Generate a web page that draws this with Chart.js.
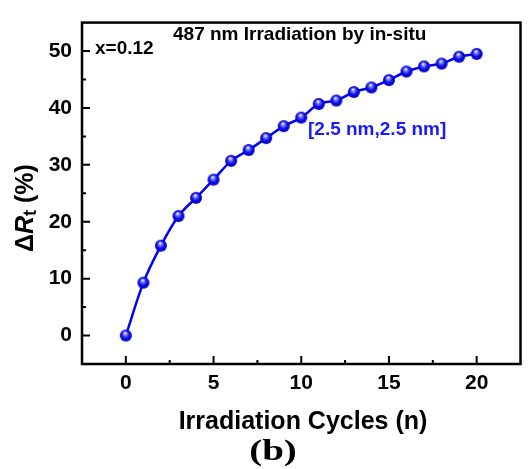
<!DOCTYPE html>
<html>
<head>
<meta charset="utf-8">
<script src="https://cdn.jsdelivr.net/npm/chart.js@4/dist/chart.umd.min.js"></script>
<style>
html,body{margin:0;padding:0;background:#fff;}
#wrap{width:529px;height:469px;position:relative;}
</style>
</head>
<body>
<div id="wrap"><canvas id="c" width="529" height="469"></canvas></div>
<script>
const cycles = [0,1,2,3,4,5,6,7,8,9,10,11,12,13,14,15,16,17,18,19,20];
const deltaRt = [0,9.3,15.8,21.0,24.2,27.4,30.7,32.6,34.7,36.8,38.3,40.7,41.3,42.8,43.6,44.9,46.4,47.3,47.8,49.0,49.5];
const xTicks = [0,5,10,15,20];
const yTicks = [0,10,20,30,40,50];
const xMinor = [2.5,7.5,12.5,17.5];
const yMinor = [5,15,25,35,45];
const xTitle = 'Irradiation Cycles (n)';
const panelLabel = '(b)';
const noteX = 'x=0.12';
const noteTitle = '487 nm Irradiation by in-situ';
const noteSize = '[2.5 nm,2.5 nm]';

const FONT = '"Liberation Sans", Arial, sans-serif';

// sphere-like point image
function sphere(r){
  const c = document.createElement('canvas');
  const s = r*2+2;
  c.width = s; c.height = s;
  const g = c.getContext('2d');
  const cx = s/2, cy = s/2;
  const grad = g.createRadialGradient(cx-r*0.15, cy-r*0.45, r*0.05, cx, cy, r);
  grad.addColorStop(0, '#ffffff');
  grad.addColorStop(0.25, '#8080ff');
  grad.addColorStop(0.6, '#1010f0');
  grad.addColorStop(1, '#0000b0');
  g.fillStyle = grad;
  g.beginPath(); g.arc(cx, cy, r, 0, Math.PI*2); g.fill();
  return c;
}
const ball = sphere(6);

const framePlugin = {
  id: 'frame',
  afterDraw(chart){
    const {ctx, chartArea: a, scales: {x, y}} = chart;
    ctx.save();
    ctx.strokeStyle = '#000';
    ctx.lineWidth = 2.5;
    ctx.strokeRect(a.left, a.top, a.right - a.left, a.bottom - a.top);
    ctx.lineWidth = 2;
    ctx.beginPath();
    xTicks.forEach(v => { const p = x.getPixelForValue(v); ctx.moveTo(p, a.bottom); ctx.lineTo(p, a.bottom - 8); });
    xMinor.forEach(v => { const p = x.getPixelForValue(v); ctx.moveTo(p, a.bottom); ctx.lineTo(p, a.bottom - 4); });
    yTicks.forEach(v => { const p = y.getPixelForValue(v); ctx.moveTo(a.left, p); ctx.lineTo(a.left + 8, p); });
    yMinor.forEach(v => { const p = y.getPixelForValue(v); ctx.moveTo(a.left, p); ctx.lineTo(a.left + 4, p); });
    ctx.stroke();

    // annotations
    ctx.fillStyle = '#000';
    ctx.textBaseline = 'middle';
    ctx.textAlign = 'left';
    ctx.font = 'bold 19px ' + FONT;
    ctx.fillText(noteX, 95, 49);
    ctx.fillText(noteTitle, 173, 35);
    ctx.fillStyle = '#1a1aff';
    ctx.fillText(noteSize, 308, 130);

    // x title
    ctx.fillStyle = '#000';
    ctx.textAlign = 'center';
    ctx.font = 'bold 25px ' + FONT;
    ctx.fillText(xTitle, 303, 422);

    // panel label (horizontally widened, as in the reference)
    ctx.save();
    ctx.translate(273, 452);
    ctx.scale(1.3, 1);
    ctx.font = 'bold 30px "Liberation Serif", "Times New Roman", serif';
    ctx.fillText(panelLabel, 0, 0);
    ctx.restore();

    // y title with subscript
    ctx.translate(26, 208);
    ctx.rotate(-Math.PI/2);
    const parts = [
      {t:'\u0394', f:'bold 25px ' + FONT, dy:0},
      {t:'R', f:'italic bold 25px ' + FONT, dy:0},
      {t:'t', f:'bold 18px ' + FONT, dy:5},
      {t:' (%)', f:'bold 25px ' + FONT, dy:0}
    ];
    let total = 0;
    parts.forEach(p => { ctx.font = p.f; p.w = ctx.measureText(p.t).width; total += p.w; });
    let xx = -total/2;
    ctx.textAlign = 'left';
    parts.forEach(p => { ctx.font = p.f; ctx.fillText(p.t, xx, p.dy); xx += p.w; });
    ctx.restore();
  }
};

new Chart(document.getElementById('c'), {
  type: 'line',
  data: {
    datasets: [{
      data: cycles.map((c, i) => ({x: c, y: deltaRt[i]})),
      borderColor: '#0000ff',
      borderWidth: 2.5,
      tension: 0.35,
      cubicInterpolationMode: 'monotone',
      pointStyle: ball,
      pointRadius: 6,
      pointHoverRadius: 6,
      fill: false
    }]
  },
  options: {
    responsive: false,
    animation: false,
    devicePixelRatio: 1,
    layout: { padding: { left: 0, right: 7, top: 13, bottom: 0 } },
    plugins: { legend: { display: false }, tooltip: { enabled: false } },
    scales: {
      x: {
        type: 'linear',
        min: -2.5, max: 22.5,
        grid: { display: false, drawTicks: false },
        border: { display: false },
        afterFit(s){ s.height = 105; },
        afterBuildTicks(s){ s.ticks = xTicks.map(v => ({value: v})); },
        ticks: {
          padding: 7,
          maxRotation: 0,
          color: '#000',
          font: { family: FONT, size: 21, weight: 'bold' }
        }
      },
      y: {
        type: 'linear',
        min: -5, max: 55,
        grid: { display: false, drawTicks: false },
        border: { display: false },
        afterFit(s){ s.width = 82; },
        afterBuildTicks(s){ s.ticks = yTicks.map(v => ({value: v})); },
        ticks: {
          padding: 10,
          color: '#000',
          font: { family: FONT, size: 21, weight: 'bold' }
        }
      }
    }
  },
  plugins: [framePlugin]
});
</script>
</body>
</html>
